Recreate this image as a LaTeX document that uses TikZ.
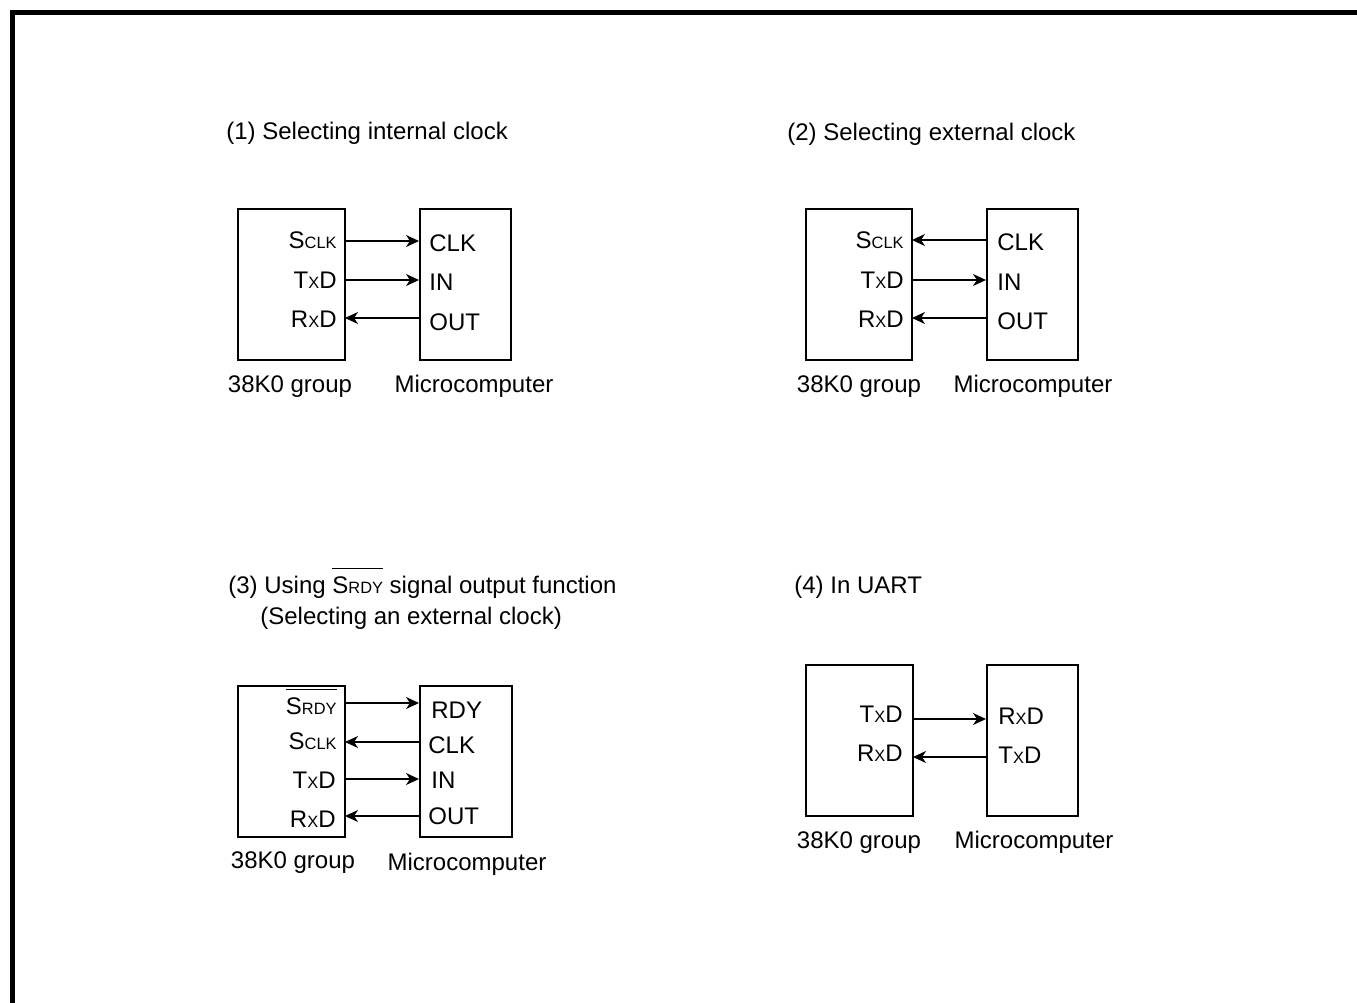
\documentclass[tikz,border=0pt]{standalone}
\usepackage{fontspec}
\setmainfont{Liberation Sans}
\usetikzlibrary{arrows.meta}
\newcommand{\smc}[1]{{\fontsize{8.2}{8.2}\selectfont #1}}
\newcommand{\ovl}[1]{\vbox{\hrule height 0.5pt\kern 4pt\hbox{#1}}}
\begin{document}
\begin{tikzpicture}[x=0.5pt,y=-0.5pt,
  font=\fontsize{12}{14}\selectfont,
  box/.style={draw, line width=1pt, inner sep=0pt, minimum height=75.5pt},
  lbl/.style={inner sep=0pt, text height=8.6pt, text depth=0pt},
  ttl/.style={inner sep=0pt, text height=8.6pt, text depth=0pt, anchor=west},
  sig/.style={line width=0.6pt, -{Stealth[length=6.5pt,width=6pt,inset=2pt]}},
  frame/.style={line width=2.5pt}]
\useasboundingbox (0,0) rectangle (1357,1003);
\coordinate (fb) at (12,1003);
\coordinate (fc) at (12,12.5);
\coordinate (fr) at (1357,12.5);
\draw[frame] (fb) -- (fc) -- (fr);

% ---------- Panel 1 ----------
\node[ttl] (t1) at (226,131) {(1) Selecting internal clock};
\node[box, minimum width=53.5pt] (A1) at (291.5,284.5) {};
\node[box, minimum width=45.5pt] (B1) at (465.5,284.5) {};
\node[lbl, anchor=east] (a1s) at (337,240) {S\smc{CLK}};
\node[lbl, anchor=east] (a1t) at (337,280) {T\smc{X}D};
\node[lbl, anchor=east] (a1r) at (337,319) {R\smc{X}D};
\node[lbl, anchor=west] (b1c) at (429,243) {CLK};
\node[lbl, anchor=west] (b1i) at (429,282) {IN};
\node[lbl, anchor=west] (b1o) at (429,322) {OUT};
\coordinate (p11) at (345,241);
\coordinate (p12) at (345,280);
\coordinate (p13) at (345,318);
\draw[sig] (p11) -- (p11 -| B1.west);
\draw[sig] (p12) -- (p12 -| B1.west);
\draw[sig] (p13 -| B1.west) -- (p13);
\node[lbl] (g1) at (290,384) {38K0 group};
\node[lbl] (m1) at (474,384) {Microcomputer};

% ---------- Panel 2 ----------
\node[ttl] (t2) at (787,132) {(2) Selecting external clock};
\node[box, minimum width=53pt] (A2) at (859,284.5) {};
\node[box, minimum width=45.5pt] (B2) at (1032.5,284.5) {};
\node[lbl, anchor=east] (a2s) at (904,240) {S\smc{CLK}};
\node[lbl, anchor=east] (a2t) at (904,280) {T\smc{X}D};
\node[lbl, anchor=east] (a2r) at (904,319) {R\smc{X}D};
\node[lbl, anchor=west] (b2c) at (997,242) {CLK};
\node[lbl, anchor=west] (b2i) at (997,282) {IN};
\node[lbl, anchor=west] (b2o) at (997,321) {OUT};
\coordinate (p21) at (912,240);
\coordinate (p22) at (912,280);
\coordinate (p23) at (912,318);
\draw[sig] (p21 -| B2.west) -- (p21);
\draw[sig] (p22) -- (p22 -| B2.west);
\draw[sig] (p23 -| B2.west) -- (p23);
\node[lbl] (g2) at (859,384) {38K0 group};
\node[lbl] (m2) at (1033,384) {Microcomputer};

% ---------- Panel 3 ----------
\node[ttl] (t3) at (228,585) {(3) Using \ovl{S\smc{RDY}} signal output function};
\node[ttl] (t3b) at (260,616) {(Selecting an external clock)};
\node[box, minimum width=53.5pt] (A3) at (291.5,761.5) {};
\node[box, minimum width=46pt] (B3) at (466,761.5) {};
\node[lbl, anchor=east] (a3y) at (337,706) {\ovl{S\smc{RDY}}};
\node[lbl, anchor=east] (a3s) at (337,741) {S\smc{CLK}};
\node[lbl, anchor=east] (a3t) at (336,780) {T\smc{X}D};
\node[lbl, anchor=east] (a3r) at (336,819) {R\smc{X}D};
\node[lbl, anchor=west] (b3y) at (431,710) {RDY};
\node[lbl, anchor=west] (b3c) at (428,745) {CLK};
\node[lbl, anchor=west] (b3i) at (431,780) {IN};
\node[lbl, anchor=west] (b3o) at (428,816) {OUT};
\coordinate (p31) at (345,703);
\coordinate (p32) at (345,742);
\coordinate (p33) at (345,779);
\coordinate (p34) at (345,816);
\draw[sig] (p31) -- (p31 -| B3.west);
\draw[sig] (p32 -| B3.west) -- (p32);
\draw[sig] (p33) -- (p33 -| B3.west);
\draw[sig] (p34 -| B3.west) -- (p34);
\node[lbl] (g3) at (293,860) {38K0 group};
\node[lbl] (m3) at (467,862) {Microcomputer};

% ---------- Panel 4 ----------
\node[ttl] (t4) at (794,585) {(4) In UART};
\node[box, minimum width=53.5pt] (A4) at (859.5,740.5) {};
\node[box, minimum width=45.5pt] (B4) at (1032.5,740.5) {};
\node[lbl, anchor=east] (a4t) at (903,714) {T\smc{X}D};
\node[lbl, anchor=east] (a4r) at (903,753) {R\smc{X}D};
\node[lbl, anchor=west] (b4r) at (998,716) {R\smc{X}D};
\node[lbl, anchor=west] (b4t) at (998,755) {T\smc{X}D};
\coordinate (p41) at (913,719);
\coordinate (p42) at (913,757);
\draw[sig] (p41) -- (p41 -| B4.west);
\draw[sig] (p42 -| B4.west) -- (p42);
\node[lbl] (g4) at (859,840) {38K0 group};
\node[lbl] (m4) at (1034,840) {Microcomputer};
\end{tikzpicture}
\end{document}
